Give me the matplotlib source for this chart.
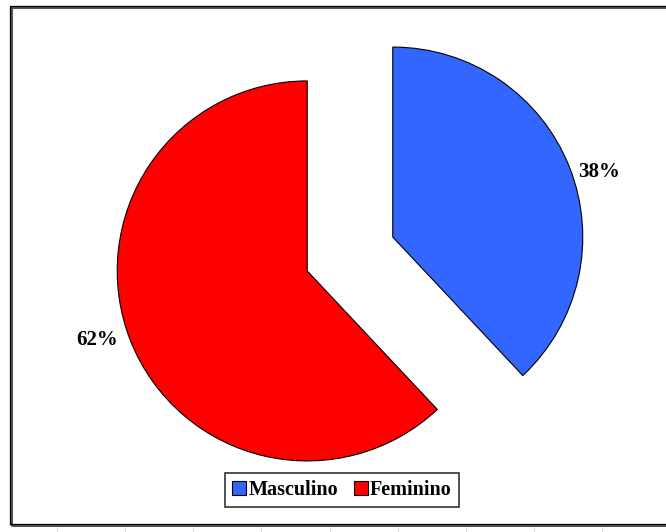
import matplotlib.pyplot as plt
from matplotlib.patches import Rectangle, Patch

labels = ["Masculino", "Feminino"]
values = [38, 62]
colors = ["#3366FF", "#FF0000"]
pct_text = ["38%", "62%"]

W, H = 666, 532
fig = plt.figure(figsize=(W / 100, H / 100), dpi=100)
ax = fig.add_axes([0, 0, 1, 1])

# pie in pixel-like data units (y measured from the bottom); explode is absolute here
ax.pie(values, colors=colors, startangle=90, counterclock=False,
       center=(350, H - 254), radius=190, explode=[46, 46],
       wedgeprops=dict(edgecolor="black", linewidth=0.8))
ax.set_xlim(0, W)
ax.set_ylim(0, H)
ax.set_axis_off()

serif = ["Liberation Serif", "DejaVu Serif"]
ax.text(599, H - 172, pct_text[0], ha="center", va="center",
        fontsize=15, fontweight="bold", family=serif)
ax.text(97, H - 340, pct_text[1], ha="center", va="center",
        fontsize=15, fontweight="bold", family=serif)

# chart area border
ax.add_patch(Rectangle((11, H - 525), 700, 518, fill=False,
                       edgecolor="#555555", linewidth=2.2, zorder=0))
ax.add_patch(Rectangle((10, H - 524), 700, 518, fill=False,
                       edgecolor="black", linewidth=0.9, zorder=0))

# faint sheet grid ticks below the chart
for gx in [57, 125, 193, 261, 330, 398, 466, 534, 602]:
    ax.plot([gx, gx], [0, H - 528], color="#dddddd", linewidth=0.8)

handles = [Patch(facecolor=c, edgecolor="black", linewidth=0.8) for c in colors]
leg = fig.legend(handles, labels, loc="center", bbox_to_anchor=(342 / W, 1 - 490 / H),
                 ncol=2, frameon=True, fancybox=False, edgecolor="black",
                 handlelength=0.7, handleheight=0.7, handletextpad=0.1,
                 columnspacing=0.8, borderpad=0.35,
                 prop=dict(family=serif, weight="bold", size=14.5))
leg.get_frame().set_linewidth(1.2)

fig.savefig("out.png", dpi=100)
